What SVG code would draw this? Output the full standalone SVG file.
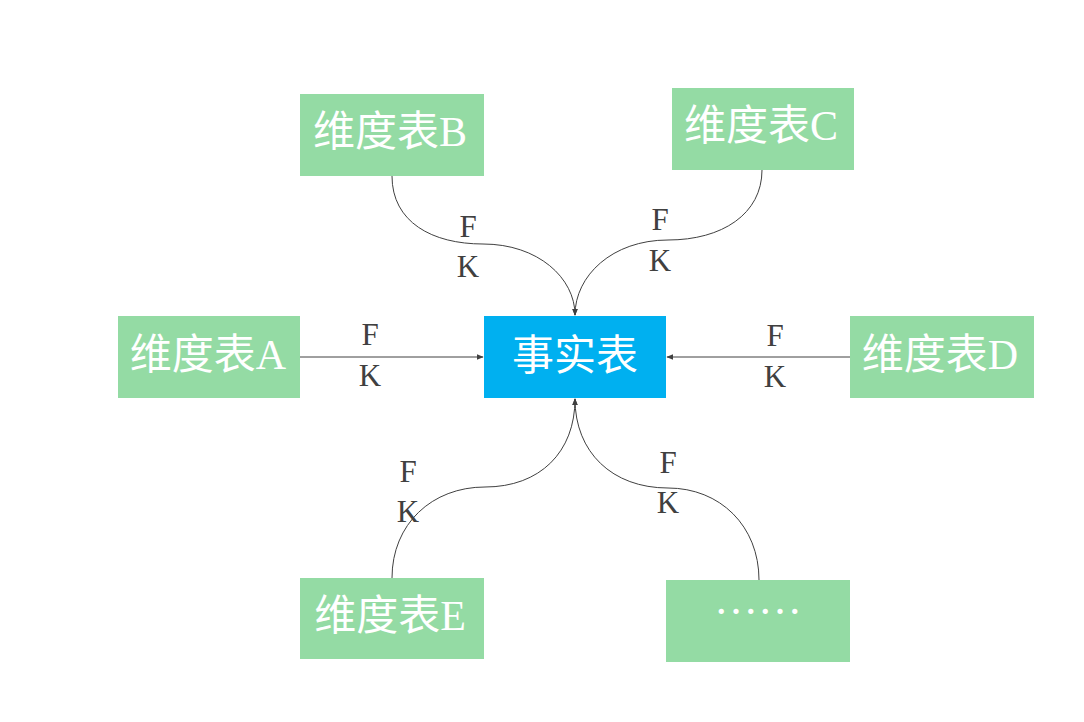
<svg xmlns="http://www.w3.org/2000/svg" width="1084" height="722" viewBox="0 0 1084 722">
<style>
.dim{fill:#94DBA4}
.fact{fill:#00B0F0}
.t{fill:#ffffff;font-family:"Liberation Serif","Noto Sans CJK SC",serif;font-size:42px;text-anchor:middle}
.lbl{fill:#404040;font-family:"Liberation Serif",serif;font-size:31px;text-anchor:middle}
.c{fill:none;stroke:#404040;stroke-width:1}
</style>
<defs>
<marker id="arr" viewBox="0 0 10 10" refX="9" refY="5" markerWidth="7" markerHeight="7" markerUnits="userSpaceOnUse" orient="auto">
<path d="M0,1 L10,5 L0,9 Z" fill="#404040"/>
</marker>
</defs>
<rect width="1084" height="722" fill="#ffffff"/>
<g id="connectors">
<path class="c" d="M300,357 L483,357" marker-end="url(#arr)"/>
<path class="c" d="M850,357 L667,357" marker-end="url(#arr)"/>
<path class="c" d="M392,176 C392,222 432,244 483,244 C538,244 575,278 575,315" marker-end="url(#arr)"/>
<path class="c" d="M762,170 C762,214 722,240 668,240 C612,240 575,276 575,315" marker-end="url(#arr)"/>
<path class="c" d="M392,578 C392,524 432,487 485,487 C540,487 575,452 575,399" marker-end="url(#arr)"/>
<path class="c" d="M759,580 C759,526 720,488 668,488 C612,488 575,452 575,399" marker-end="url(#arr)"/>
</g>
<g id="labels">
<text class="lbl" x="370" y="345">F</text>
<text class="lbl" x="370" y="386">K</text>
<text class="lbl" x="775" y="346">F</text>
<text class="lbl" x="775" y="387">K</text>
<text class="lbl" x="468" y="237">F</text>
<text class="lbl" x="468" y="277">K</text>
<text class="lbl" x="660" y="230">F</text>
<text class="lbl" x="660" y="271">K</text>
<text class="lbl" x="408" y="482">F</text>
<text class="lbl" x="408" y="522">K</text>
<text class="lbl" x="668" y="473">F</text>
<text class="lbl" x="668" y="513">K</text>
</g>
<g id="fact">
<rect class="fact" x="484" y="316" width="182" height="82"/>
<text class="t" x="575" y="370">事实表</text>
</g>
<g id="dimA">
<rect class="dim" x="118" y="316" width="182" height="82"/>
<text class="t" x="208" y="369">维度表A</text>
</g>
<g id="dimB">
<rect class="dim" x="300" y="94" width="184" height="82"/>
<text class="t" x="390" y="146">维度表B</text>
</g>
<g id="dimC">
<rect class="dim" x="672" y="88" width="182" height="82"/>
<text class="t" x="761" y="140">维度表C</text>
</g>
<g id="dimD">
<rect class="dim" x="850" y="316" width="184" height="82"/>
<text class="t" x="940" y="369">维度表D</text>
</g>
<g id="dimE">
<rect class="dim" x="300" y="578" width="184" height="81"/>
<text class="t" x="390" y="630">维度表E</text>
</g>
<g id="dimMore">
<rect class="dim" x="666" y="580" width="184" height="82"/>
<text class="t" x="758" y="614" style="font-size:44px">……</text>
</g>
</svg>
